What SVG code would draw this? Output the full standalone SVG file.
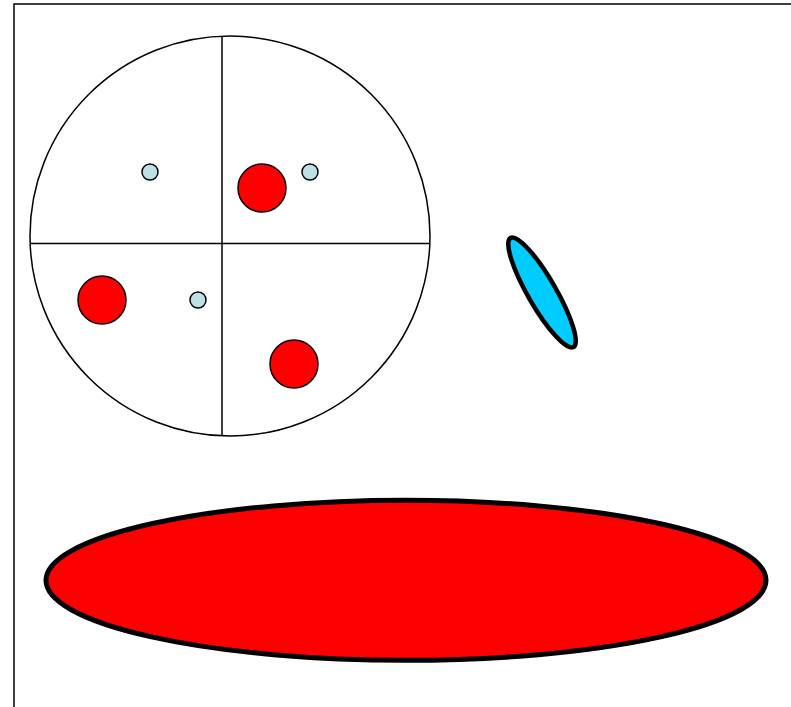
<svg xmlns="http://www.w3.org/2000/svg" width="791" height="707" viewBox="0 0 791 707">
<style>
.thin{fill:none;stroke:#000;stroke-width:1.5}
.dot{fill:#bce0e4;stroke:#000;stroke-width:1.5}
.ball{fill:#ff0000;stroke:#000;stroke-width:1.5}
</style>
<rect width="791" height="707" fill="#fff"/>
<path d="M14,707 V4 H791" fill="none" stroke="#000" stroke-width="1.5"/>
<g id="disc">
<circle class="thin" cx="230" cy="236" r="200"/>
<line class="thin" x1="222" y1="36" x2="222" y2="436"/>
<line class="thin" x1="30" y1="243.5" x2="430" y2="243.5"/>
</g>
<g id="dots">
<circle class="dot" cx="150" cy="172" r="8"/>
<circle class="dot" cx="310" cy="172" r="8"/>
<circle class="dot" cx="198" cy="300" r="8"/>
</g>
<g id="balls">
<circle class="ball" cx="262" cy="188" r="24"/>
<circle class="ball" cx="102" cy="300" r="24"/>
<circle class="ball" cx="294" cy="364" r="24"/>
</g>
<g id="cyan-ellipse">
<ellipse cx="542" cy="292.5" rx="63" ry="14" transform="rotate(60 542 292.5)" fill="#00ccff" stroke="#000" stroke-width="4.5"/>
</g>
<g id="red-ellipse">
<ellipse cx="406" cy="580.3" rx="360" ry="80" fill="#ff0000" stroke="#000" stroke-width="5"/>
</g>
<g id="connectors"/>
</svg>
